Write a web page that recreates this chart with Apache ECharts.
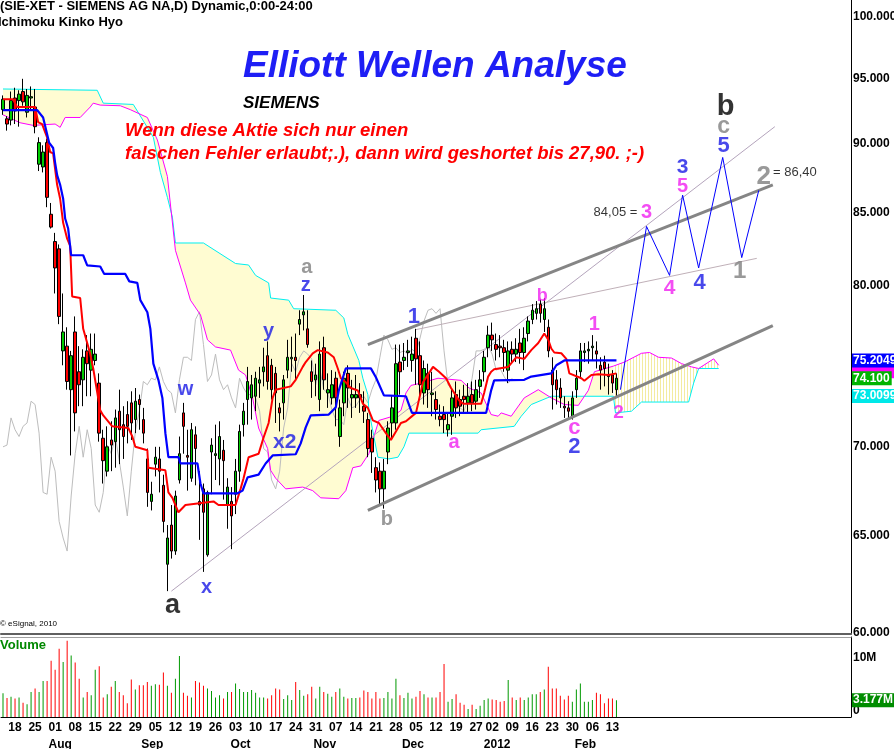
<!DOCTYPE html>
<html><head><meta charset="utf-8">
<script src="https://cdn.jsdelivr.net/npm/echarts@6/dist/echarts.min.js"></script>
<style>html,body{margin:0;padding:0;background:#fff;overflow:hidden}#c{width:894px;height:749px}</style>
</head><body><div id="c"></div>
<script>
// ---------- calendar / categories ----------
const START_DATE = [2011, 6, 13];          // 13 Jul 2011
const HOLIDAYS = ['2011-12-26'];
const N_TRADED = 154;                      // bars with prices
const N_SLOTS = 212;                       // incl. projected space on the right
const weekLabels = ['18','25','01','08','15','22','29','05','12','19','26','03','10','17','24','31','07','14','21','28','05','12','19','27','02','09','16','23','30','06','13'];
const monthLabels = ['Aug','Sep','Oct','Nov','Dec','2012','Feb'];
const priceTicks = [60,65,70,75,80,85,90,95,100];
const volumeTicks = [0,10];

// ---------- OHLC (EUR) ----------
const open  = [92.6,91.9,91.8,93.5,93.3,94.0,92.4,93.5,92.8,88.5,88.3,90.1,84.9,83.0,82.5,75.8,76.1,73.4,77.0,74.5,74.0,75.8,74.6,75.2,73.8,70.5,68.6,70.4,70.3,72.1,71.3,71.9,72.6,71.6,72.8,71.6,69.3,66.9,69.0,69.3,67.8,63.5,65.6,64.2,68.1,72.0,69.5,68.2,70.7,66.9,67.6,64.0,69.7,69.5,69.3,69.8,66.7,66.9,67.3,68.6,71.3,72.8,72.9,73.0,73.8,74.5,75.5,74.9,74.4,72.3,72.6,74.6,75.3,75.4,77.5,78.1,77.2,74.5,74.0,72.8,76.0,73.2,72.9,74.1,70.6,72.6,74.4,72.9,72.9,73.1,72.4,71.6,70.5,68.8,68.6,67.6,69.7,71.4,71.4,75.1,75.2,75.7,75.2,76.6,75.5,73.2,74.4,73.1,72.8,71.8,71.9,71.0,71.8,73.1,72.8,73.0,72.6,73.1,72.7,73.6,74.5,76.0,76.8,76.2,76.1,76.0,74.6,75.9,75.6,76.3,75.7,76.9,77.8,78.2,78.8,77.8,77.3,74.6,74.0,73.5,72.4,72.3,71.8,73.4,74.5,75.7,75.8,76.0,75.8,74.9,75.1,74.3,74.3,73.4];
const high  = [93.7,92.1,94.0,94.3,94.1,95.0,94.2,94.4,94.2,90.5,89.9,90.4,85.7,83.6,82.8,79.5,77.3,75.8,78.0,76.1,75.9,76.8,76.9,76.9,74.4,71.0,71.2,71.5,72.2,73.4,72.4,72.7,73.3,73.5,73.1,72.3,69.9,68.0,70.0,70.0,68.4,65.6,66.7,67.5,70.6,72.6,71.0,71.4,71.2,68.6,67.9,67.5,70.5,71.3,71.5,70.4,68.2,67.7,69.3,71.3,72.6,74.8,74.3,74.5,74.8,76.0,76.4,75.3,74.8,72.6,74.3,76.5,76.7,76.9,78.4,79.4,78.4,75.2,75.0,76.4,76.7,74.4,74.6,74.5,72.8,74.5,74.9,74.0,74.3,73.8,73.3,72.0,71.0,69.4,69.1,69.3,71.5,73.0,76.2,76.2,76.3,76.5,76.7,77.2,76.4,75.2,75.0,74.5,73.3,72.5,72.4,72.0,73.4,73.9,73.4,73.7,73.8,73.9,74.0,74.6,75.8,77.4,77.6,76.9,76.8,76.5,76.4,76.4,76.6,77.2,77.3,78.0,78.8,79.0,79.1,79.2,77.8,75.4,74.6,74.1,73.0,72.7,73.3,74.6,76.3,76.3,76.4,76.8,76.4,75.4,75.5,75.0,74.6,74.4];
const low   = [92.2,91.0,91.4,91.5,91.3,92.9,92.0,92.6,90.8,88.0,87.9,85.4,83.9,79.5,77.5,74.9,73.4,69.5,70.9,72.4,72.4,73.0,73.0,74.9,70.3,67.9,68.3,68.6,68.8,69.0,69.3,70.2,70.4,70.8,71.0,70.2,66.6,66.4,68.3,67.4,65.2,62.1,63.8,64.0,67.9,69.6,67.5,68.0,67.8,64.8,63.1,63.9,67.3,68.1,67.8,67.0,65.4,64.3,66.2,68.0,70.6,71.3,71.6,72.1,72.9,73.6,73.4,72.8,71.4,70.9,71.6,74.1,74.5,74.0,76.8,77.1,76.0,72.9,73.0,72.1,73.4,72.3,72.5,71.2,70.0,71.8,72.3,71.7,72.3,72.0,71.4,69.4,68.5,67.4,66.7,66.5,69.0,70.5,71.0,73.1,74.6,74.8,74.5,73.7,73.0,72.5,72.3,71.8,71.6,71.2,70.8,70.6,70.7,71.7,71.8,72.0,72.0,72.1,72.2,72.9,73.9,75.4,75.8,75.2,75.4,74.5,73.8,75.0,75.1,75.0,74.6,76.4,77.5,77.8,77.6,77.0,75.4,72.2,72.5,72.3,71.7,71.6,71.6,72.9,74.1,75.1,75.0,75.2,74.7,73.4,73.6,73.1,73.2,73.0];
const close = [93.4,91.5,93.3,92.5,93.8,93.2,93.7,93.6,91.3,90.1,89.4,86.1,84.0,81.2,78.0,77.0,73.9,75.5,72.0,73.7,75.4,75.0,75.9,75.6,70.8,69.2,70.0,70.1,71.7,71.0,70.6,71.2,71.4,72.7,72.5,70.8,67.4,67.3,69.4,68.6,65.8,64.9,64.2,67.2,69.6,71.2,69.4,71.0,69.9,66.7,66.3,67.4,70.1,69.6,70.6,69.2,67.7,66.1,68.6,70.9,72.1,73.9,73.7,74.1,74.0,74.8,73.9,73.4,73.2,72.0,74.0,75.4,75.4,75.2,77.8,78.3,76.2,73.9,74.3,75.6,74.0,73.4,73.7,72.9,72.3,74.1,73.5,73.1,73.1,72.9,72.1,69.9,69.7,68.1,67.6,68.6,71.1,72.3,75.0,74.5,75.4,75.8,75.6,75.3,73.7,74.7,73.4,73.2,72.2,71.6,71.6,71.3,72.9,72.3,72.4,72.8,73.0,72.6,73.4,74.0,75.4,76.8,76.5,75.9,76.0,75.7,75.8,75.6,75.9,75.7,76.6,77.7,78.4,78.5,78.2,78.5,75.8,73.7,73.4,72.9,72.3,72.1,72.9,74.1,75.8,75.8,75.9,76.1,75.6,74.6,74.7,74.2,73.8,74.1];
// ---------- volume (millions) ----------
const volume = [4.5,3.6,3.8,3.5,3.7,2.7,2.4,4.7,5.4,4.7,6.8,6.8,10.6,8.9,12.9,10.4,14.4,11.6,10.3,7.2,3.7,4.7,4.1,8.9,9.6,3.7,4.3,5.7,6.8,4.7,4.1,2.6,7.1,5.2,6.0,6.0,6.6,5.9,6.2,6.1,8.4,5.9,4.6,7.2,11.5,4.6,4.0,3.7,6.8,6.5,5.9,5.4,4.9,3.7,4.1,3.5,4.7,4.7,6.3,5.3,4.7,4.7,5.1,4.6,3.7,3.7,3.5,4.1,5.4,5.2,3.4,4.1,3.2,6.6,5.1,4.0,4.3,5.7,3.5,5.7,4.7,4.4,3.8,4.7,5.4,3.8,3.5,3.6,3.6,3.7,5.0,4.7,3.5,4.7,3.5,3.6,4.7,3.5,7.2,4.1,3.6,4.6,3.5,3.8,4.9,4.3,3.7,3.7,3.7,4.7,10.0,2.9,3.4,4.3,2.7,2.3,1.5,2.3,1.5,2.1,3.2,3.5,3.3,3.2,2.9,3.0,7.0,3.7,3.2,3.7,3.2,3.7,4.3,4.3,4.7,5.2,9.5,5.4,5.4,4.0,3.3,4.0,2.9,5.2,6.3,2.9,2.9,3.2,4.6,4.3,2.6,3.5,3.5,3.177];

// ---------- Ichimoku lines, read as [day index, price] vertices ----------
const tenkan = [[0,93.4],[2.5,93.4],[3.5,92.8],[8,92.8],[8.75,91.65],[9.75,91.5],[11,90.5],[11.75,89.4],[12.5,89.3],[13.5,87.0],[14.25,86.0],[15,84.3],[16,83.2],[16.75,82.7],[17.25,79.3],[19.25,79.2],[20,77.2],[21,76.3],[21.75,75.6],[22.5,74.7],[24.25,72.15],[25,71.85],[27.25,71.2],[31.25,71.1],[32.25,70.6],[33,70.0],[36,69.8],[36.25,68.8],[40.5,68.65],[41.25,67.4],[42.25,67.1],[43.75,66.3],[45.5,66.7],[52.5,66.9],[53.75,66.7],[58,66.7],[59.25,67.6],[60,68.2],[61.25,69.4],[63.75,69.6],[65,70.55],[66.25,71.4],[67.25,72.9],[68,73.4],[71.75,73.6],[73,74.0],[74.75,74.8],[75.5,75.1],[77.25,75.65],[78.5,75.85],[81,75.7],[82.5,75.4],[83.5,74.7],[84.25,74.1],[85.5,73.85],[86.75,73.5],[88.5,73.35],[89.75,72.55],[91,72.3],[92.25,71.55],[93.75,71.4],[95.5,70.8],[96.75,70.4],[98,70.9],[99.25,71.4],[100.5,71.5],[103,72.0],[104.75,73.85],[107.25,74.8],[108.75,74.5],[110.5,74.1],[111.75,73.5],[113.75,72.75],[114.75,72.55],[119.25,72.55],[120,73.2],[121,74.2],[121.75,74.5],[122.5,74.65],[126,74.8],[128,75.4],[130,75.3],[131.75,75.85],[133.5,76.3],[135,76.9],[136,76.5],[136.75,75.95],[137.5,75.7],[139.25,75.65],[140.5,75.3],[141.25,74.4],[144.25,74.1],[145,73.95],[146.75,74.3],[148.5,74.35],[151,74.3],[153,74.4]];
const kijun = [[0,92.57],[8.5,92.57],[10,92.0],[11.5,90.1],[12.5,89.7],[13,88.6],[13.5,87.7],[14.25,87.0],[15,86.0],[15.5,84.6],[16.25,83.9],[17,82.06],[20,82.06],[21,81.38],[24.25,81.3],[25.25,80.8],[30.5,80.8],[31.5,80.3],[33.5,80.2],[34.25,79.06],[36,78.27],[36.75,77.2],[37.5,75.0],[38.75,74.0],[39.75,72.9],[40.5,70.8],[41.25,69.4],[43.75,69.4],[44.25,69.04],[48.5,69.04],[49.25,67.9],[50,67.35],[58.5,67.35],[59.75,67.5],[61,68.25],[63.75,68.4],[65.5,69.04],[67.25,69.5],[73,69.57],[74.25,70.2],[75.5,71.14],[76.75,71.85],[81.25,71.9],[83,72.33],[83.75,73.36],[85.5,74.71],[91.75,74.71],[93,74.16],[95,73.05],[100.5,73.0],[102,72.0],[120.5,72.0],[121.75,73.36],[122.5,73.97],[130,74.0],[131.75,74.2],[136.75,74.4],[138,74.9],[140,75.2],[153,75.2049]];
const spanCyan = [[0,94.2],[23.5,94.1],[25,93.1],[32.5,93.0],[37.5,90.5],[39.25,87.9],[41,86.1],[42.25,84.7],[43,82.9],[50,82.9],[58,81.5],[61.25,81.4],[63,80.7],[66.25,80.2],[66.75,79.2],[71.25,79.06],[72.5,78.5],[83,78.4],[85,77.9],[86,76.85],[87.25,76.1],[88.75,75.2],[89.75,74.1],[91,73.1],[91.25,72.15],[92.5,70.6],[93.5,69.4],[96.25,69.3],[98.5,69.4],[100,70.0],[101.25,70.8],[118.5,70.8],[119.25,71.0],[127.5,71.2],[129.25,71.8],[131.75,72.5],[136.75,73.0],[152.25,73.0],[152.75,72.0],[156.75,72.1],[159.25,72.65],[171,72.65],[172.25,73.8],[173.5,74.7],[178.5,74.7]];
const spanMagenta = [[0,92.2],[4.25,91.6],[7.5,91.4],[13,91.5],[14.25,91.25],[15.5,92.0],[19.25,92.0],[21.75,92.8],[22.5,93.1],[24.25,92.95],[29.25,92.9],[31.75,92.6],[36,92.0],[38.5,90.3],[41,87.6],[43,82.4],[45.5,80.2],[46.75,79.06],[49.25,78.1],[51,76.5],[53,76.05],[56.75,75.85],[58.75,74.6],[60.5,74.3],[62.25,72.9],[63.75,71.1],[66,69.9],[66.75,68.65],[68,68.2],[70.5,67.6],[74.75,67.7],[77.25,67.5],[79.25,67.1],[83.75,67.05],[85.5,67.5],[87.25,68.8],[89.25,68.9],[91.25,69.6],[92.5,70.6],[93.75,71.55],[97.25,71.8],[99.25,72.15],[100.5,73.2],[101.75,73.66],[104.25,73.8],[108.5,74.1],[114.25,73.97],[116.25,73.5],[119.25,73.2],[121.75,71.9],[123.5,71.8],[124.25,72.0],[126.75,71.8],[130,72.9],[133.5,73.4],[136.75,72.9],[140,72.5],[143.5,72.45],[146,73.36],[147.5,74.5],[152.25,74.85],[155,75.1],[159.25,75.65],[161.25,75.7],[163.5,75.4],[166.75,75.35],[169.25,75.0],[171.75,74.8],[173.5,74.7],[176,75.1],[177.25,75.3],[178.5,74.9]];
const CHIKOU_SHIFT = 26;
const CLOUD_SPLIT = 152.25;   // first projected (future) cloud vertex

// ---------- drawn analysis ----------
const channelUpper = [[91,76.2],[192,87.0]];
const channelLower = [[91,66.4],[192,77.4]];
const trendA = [[42,62.1],[192.5,91.3]];
const trendB = [[103,77.15],[188,81.85]];
const projection = [[154,73.4],[160.5,84.05],[166.25,80.7],[169.5,86.26],[173.5,81.2],[179.5,89.0],[184.25,81.9],[188.5,86.6]];
const waveLabels = [
  ['a',42.25,61.37,'#000000',27],['w',45.5,73.4,'#1a1ae6',20],['x',50.75,62.3,'#1a1ae6',20],
  ['y',66.25,77.05,'#1a1ae6',20],['z',75.5,80.05,'#1a1ae6',20],['a',75.75,81.2,'#808080',20],
  ['x2',70.25,70.26,'#1a1ae6',21],['b',95.75,65.9,'#808080',20],['1',102.5,77.95,'#1a1ae6',22],
  ['a',112.5,70.26,'#f020f0',20],['b',134.5,79.3,'#f020f0',18],['1',147.5,77.5,'#f020f0',20],
  ['c',142.5,71.1,'#f020f0',22],['2',142.5,70.0,'#1a1ae6',22],['2',153.5,72.0,'#f020f0',19],
  ['3',160.5,85.0,'#f020f0',20],['4',166.25,79.85,'#f020f0',21],['3',169.5,88.3,'#1a1ae6',21],
  ['5',169.5,86.9,'#f020f0',20],['4',173.75,80.18,'#1a1ae6',22],['5',179.75,89.85,'#1a1ae6',22],
  ['c',179.75,91.27,'#808080',23],['b',180.25,92.8,'#000000',29],['1',183.75,81.0,'#808080',24],
  ['2',189.75,87.6,'#808080',26]
];
const levelTexts = [['84,05 =',152.75,85.0],['= 86,40',197.5,87.9]];
const badges = [            // right-axis value boxes: value, text, background, text colour
  [74.53, '74.5300', '#ff00ff', '#ff00ff'],
  [75.2049, '75.2049', '#0000ff', '#ffffff'],
  [74.100, '74.100', '#00b400', '#ffffff'],
  [73.0099, '73.0099', '#00e8e8', '#ffffff']
];
const lastVolume = 3.177;

// ---------- build ----------
const L = Math.log;
const FONT = "'Liberation Sans', Arial, sans-serif";
const dates = [];
(function(){
  let t = Date.UTC(START_DATE[0], START_DATE[1], START_DATE[2]);
  while (dates.length < N_SLOTS) {
    const d = new Date(t); const dow = d.getUTCDay(); const s = d.toISOString().slice(0,10);
    if (dow !== 0 && dow !== 6 && HOLIDAYS.indexOf(s) < 0) dates.push(s);
    t += 86400000;
  }
})();
const weekMap = {}, monthMap = {};
(function(){
  let w = 0, m = 0;
  for (let k = 1; k < N_TRADED; k++) {
    const a = new Date(dates[k-1]+'T00:00:00Z'), b = new Date(dates[k]+'T00:00:00Z');
    if (b.getUTCDay() < a.getUTCDay() && w < weekLabels.length) weekMap[k] = weekLabels[w++];
    if (b.getUTCMonth() !== a.getUTCMonth() && m < monthLabels.length) monthMap[k] = monthLabels[m++];
  }
})();
const candles = open.map((o,i) => [L(o), L(close[i]), L(low[i]), L(high[i])]);
const volData = volume.map((v,i) => ({value: v, itemStyle: {color: close[i] >= open[i] ? '#009900' : '#ff0000'}}));
const tr = arr => arr.map(p => [p[0], L(p[1])]);
const chikou = [];
for (let j = 0; j + CHIKOU_SHIFT < N_TRADED; j++) chikou.push([j, L(close[j + CHIKOU_SHIFT])]);

// hatch pattern for projected cloud
const hatch = document.createElement('canvas'); hatch.width = 3; hatch.height = 4;
(function(){ const g = hatch.getContext('2d'); g.fillStyle = '#ffffff'; g.fillRect(0,0,3,4); g.fillStyle = '#f3eba0'; g.fillRect(0,0,1,4); })();

function lineS(name, data, color, width, z) {
  return {name, type:'line', xAxisIndex:3, yAxisIndex:0, data: tr(data), showSymbol:false, symbol:'none',
    silent:true, z, lineStyle:{color, width}, animation:false};
}
function cloudSeries(filter, fill) {
  return {type:'custom', xAxisIndex:3, yAxisIndex:0, z:1, silent:true, data:[[0, L(80)]],
    renderItem:(params, api) => {
      const a = spanCyan.filter(filter), b = spanMagenta.filter(filter);
      const pts = a.map(p => api.coord([p[0], L(p[1])])).concat(b.slice().reverse().map(p => api.coord([p[0], L(p[1])])));
      return {type:'polygon', shape:{points:pts}, style:{fill, stroke:null}};
    }};
}
const priceRange = {min:L(59.93), max:L(101.42)};
function badgeAxis(b) {
  return {type:'value', gridIndex:0, position:'right', min:priceRange.min, max:priceRange.max,
    axisLine:{show:false, onZero:false}, axisTick:{show:false}, splitLine:{show:false},
    axisLabel:{show:true, customValues:[L(b[0])], formatter:()=>b[1], color:b[3], backgroundColor:b[2],
      fontFamily:FONT, fontWeight:'bold', fontSize:12, lineHeight:13, padding:[1,2,0,1], margin:1}};
}

const chart = echarts.init(document.getElementById('c'), null, {renderer:'canvas'});
const option = {
  animation:false,
  backgroundColor:'#ffffff',
  grid:[
    {left:1, top:0, width:850, height:634, containLabel:false, outerBoundsMode:'none'},
    {left:1, top:637, width:850, height:80, containLabel:false, outerBoundsMode:'none'}
  ],
  xAxis:[
    {type:'category', gridIndex:0, data:dates, boundaryGap:true, axisLabel:{show:false}, axisTick:{show:false},
     axisLine:{show:true, onZero:false, lineStyle:{color:'#606060', width:2}}, splitLine:{show:false}},
    {type:'category', gridIndex:1, data:dates, boundaryGap:true, position:'bottom', axisTick:{show:false},
     axisLine:{show:true, onZero:false, lineStyle:{color:'#000', width:1}}, splitLine:{show:false},
     axisLabel:{show:true, interval:(i)=>weekMap[i]!==undefined, formatter:(v,i)=>weekMap[i]||'', color:'#000',
       fontFamily:FONT, fontWeight:'bold', fontSize:12, margin:5}},
    {type:'category', gridIndex:1, data:dates, boundaryGap:true, position:'bottom', offset:17, axisTick:{show:false},
     axisLine:{show:false, onZero:false}, splitLine:{show:false},
     axisLabel:{show:true, interval:(i)=>monthMap[i]!==undefined, formatter:(v,i)=>monthMap[i]||'', color:'#000',
       fontFamily:FONT, fontWeight:'bold', fontSize:12, margin:5, padding:[0,0,0,10]}},
    {type:'value', gridIndex:0, min:-0.5, max:N_SLOTS-0.5, show:false, axisLine:{onZero:false}},
    {type:'category', gridIndex:1, data:dates, position:'top', axisLabel:{show:false}, axisTick:{show:false},
     axisLine:{show:true, onZero:false, lineStyle:{color:'#a0a0a0', width:1}}}
  ],
  yAxis:[
    {type:'value', gridIndex:0, position:'right', min:priceRange.min, max:priceRange.max,
     axisLine:{show:true, onZero:false, lineStyle:{color:'#000', width:1}}, axisTick:{show:false}, splitLine:{show:false},
     axisLabel:{show:true, customValues: priceTicks.map(v=>L(v)), formatter:(v)=>Math.round(Math.exp(v)).toFixed(3),
       color:'#000', fontFamily:FONT, fontWeight:'bold', fontSize:12, margin:2}},
    {type:'value', gridIndex:1, position:'right', min:0, max:15.1,
     axisLine:{show:true, onZero:false, lineStyle:{color:'#000', width:1}}, axisTick:{show:false}, splitLine:{show:false},
     axisLabel:{show:true, customValues: volumeTicks, formatter:(v)=> v===0 ? '0' : v+'M', verticalAlign:'bottom',
       color:'#000', fontFamily:FONT, fontWeight:'bold', fontSize:12, margin:2}},
    {type:'value', gridIndex:1, position:'right', min:0, max:15.1,
     axisLine:{show:false, onZero:false}, axisTick:{show:false}, splitLine:{show:false},
     axisLabel:{show:true, customValues:[lastVolume], formatter:()=>lastVolume.toFixed(3)+'M', color:'#fff', backgroundColor:'#008c00',
       fontFamily:FONT, fontWeight:'bold', fontSize:12, lineHeight:13, padding:[1,2,0,1], margin:1}}
  ].concat(badges.map(badgeAxis)),
  graphic:[
    {type:'text', left:0, top:0, z:100, style:{text:'(SIE-XET - SIEMENS AG NA,D) Dynamic,0:00-24:00', font:"bold 13px "+FONT, fill:'#000'}},
    {type:'text', left:-2, top:16, z:100, style:{text:'Ichimoku Kinko Hyo', font:"bold 13px "+FONT, fill:'#000'}},
    {type:'text', left:243, top:48, z:100, style:{text:'Elliott Wellen Analyse', font:"italic bold 37px "+FONT, fill:'#1e1ef5'}},
    {type:'text', left:243, top:95, z:100, style:{text:'SIEMENS', font:"italic bold 17px "+FONT, fill:'#000'}},
    {type:'text', left:125, top:121, z:100, style:{text:'Wenn diese Aktie sich nur einen', font:"italic bold 18.5px "+FONT, fill:'#ff0000'}},
    {type:'text', left:125, top:144, z:100, style:{text:'falschen Fehler erlaubt;.), dann wird geshortet bis 27,90. ;-)', font:"italic bold 18.5px "+FONT, fill:'#ff0000'}},
    {type:'text', left:0, top:620, z:100, style:{text:'\u00a9 eSignal, 2010', font:"8px "+FONT, fill:'#000'}},
    {type:'text', left:0, top:639, z:100, style:{text:'Volume', font:"bold 13px "+FONT, fill:'#008800'}}
  ],
  series:[
    cloudSeries(p => p[0] <= CLOUD_SPLIT, '#fffcd2'),
    cloudSeries(p => p[0] >= CLOUD_SPLIT, {image: hatch, repeat:'repeat'}),
    {name:'chikou', type:'line', xAxisIndex:3, yAxisIndex:0, data:chikou, showSymbol:false, symbol:'none', silent:true, z:2,
     lineStyle:{color:'#bdbdbd', width:1}},
    lineS('spanCyan', spanCyan, '#00f0f0', 1, 3),
    lineS('spanMagenta', spanMagenta, '#ff00ff', 1, 3),
    lineS('trendA', trendA, '#b4a4bc', 1, 3),
    lineS('trendB', trendB, '#c0b0b8', 1, 3),
    {name:'price', type:'candlestick', xAxisIndex:0, yAxisIndex:0, data:candles, z:4, barWidth:3, silent:true,
     itemStyle:{color:'#00cc00', color0:'#ff0000', borderColor:'#000', borderColor0:'#000', borderWidth:1}},
    lineS('tenkan', tenkan, '#ff0000', 2, 5),
    lineS('kijun', kijun, '#0000ff', 2.2, 5),
    lineS('channelUpper', channelUpper, '#858585', 3, 6),
    lineS('channelLower', channelLower, '#858585', 3, 6),
    lineS('projection', projection, '#0000ff', 1, 6),
    {name:'labels', type:'scatter', xAxisIndex:3, yAxisIndex:0, z:10, silent:true, symbolSize:1, itemStyle:{color:'rgba(0,0,0,0)'},
     data: waveLabels.map(w => ({value:[w[1], L(w[2])], label:{show:true, position:'inside', formatter:w[0], color:w[3],
       fontSize:w[4], fontWeight:'bold', fontFamily:FONT}}))
       .concat(levelTexts.map(t => ({value:[t[1], L(t[2])], label:{show:true, position:'inside', formatter:t[0], color:'#000',
       fontSize:13, fontWeight:'normal', fontFamily:FONT}})))},
    {name:'volume', type:'bar', xAxisIndex:1, yAxisIndex:1, data:volData, barWidth:1, silent:true}
  ]
};
chart.setOption(option);
</script>
</body></html>
